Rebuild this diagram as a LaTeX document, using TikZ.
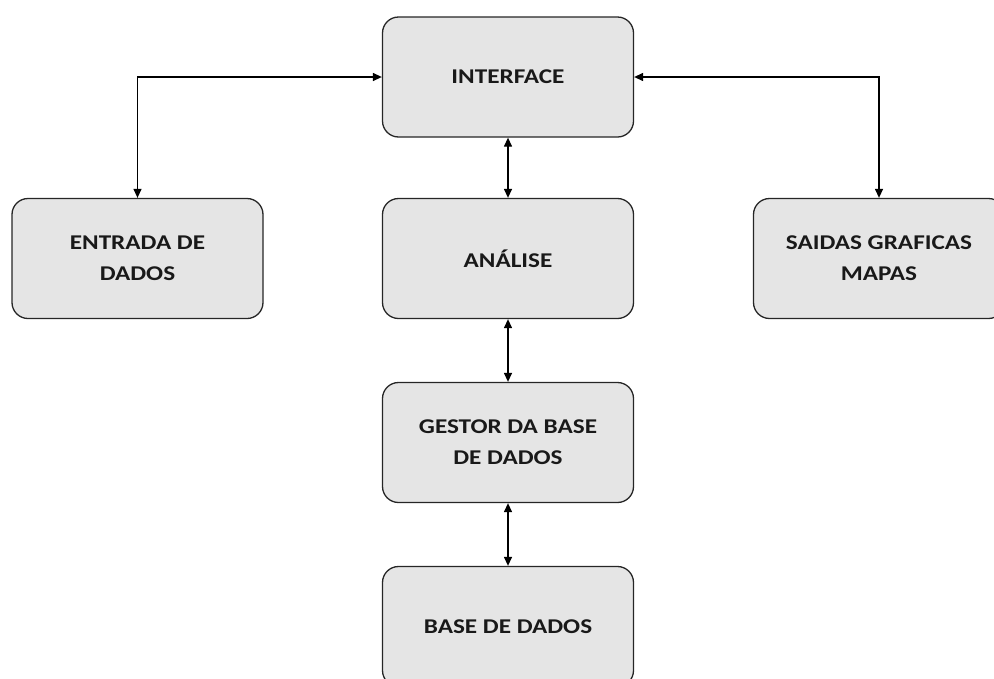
\documentclass[tikz,border=0pt]{standalone}
\usepackage{fontspec}
\setmainfont{Carlito}
\newfontfamily\boxfont[FakeStretch=1.2]{Carlito}
\usetikzlibrary{arrows.meta}
\begin{document}
\begin{tikzpicture}[x=1pt,y=-1pt,
  box/.style={draw=black!85, line width=1.3pt, fill=black!10, rounded corners=16pt,
    minimum width=251pt, minimum height=120pt, align=center,
    font=\boxfont\fontsize{21}{31}\selectfont\bfseries, text=black!90},
  conn/.style={line width=1.3pt, {Triangle[length=9pt,width=8pt]}-{Triangle[length=9pt,width=8pt]}}]
\useasboundingbox (0,0) rectangle (994,678);
\node[box] (interface) at (508,77) {INTERFACE};
\node[box] (entrada) at (137.5,258.5) {ENTRADA DE\\DADOS};
\node[box] (analise) at (508,258.5) {ANÁLISE};
\node[box] (saidas) at (879,258.5) {SAIDAS GRAFICAS\\MAPAS};
\node[box] (gestor) at (508,442.5) {GESTOR DA BASE\\DE DADOS};
\node[box] (base) at (508,626.5) {BASE DE DADOS};
\draw[conn] (entrada.north) |- (interface.west);
\draw[conn] (saidas.north) |- (interface.east);
\draw[conn] (interface.south) -- (analise.north);
\draw[conn] (analise.south) -- (gestor.north);
\draw[conn] (gestor.south) -- (base.north);
\end{tikzpicture}
\end{document}
